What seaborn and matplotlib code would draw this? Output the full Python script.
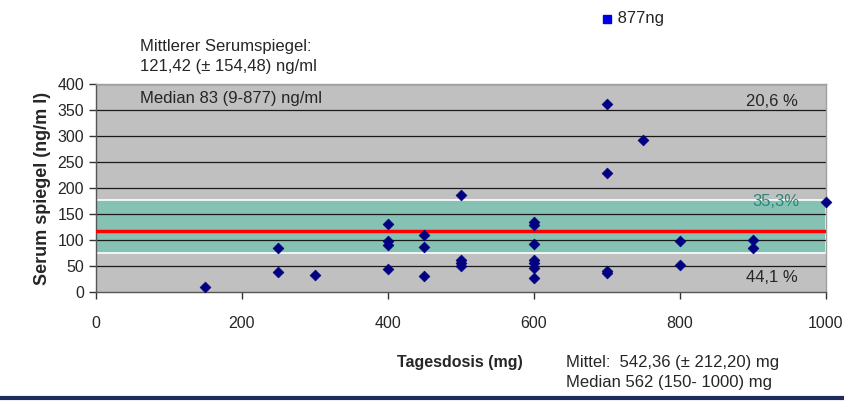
import matplotlib
matplotlib.use("Agg")
import matplotlib.pyplot as plt
import matplotlib.transforms as mtransforms
from matplotlib.lines import Line2D
import seaborn as sns
import pandas as pd

# ---- data ----
dose_mg = [150, 250, 250, 300,
           400, 400, 400, 400,
           450, 450, 450,
           500, 500, 500, 500,
           600, 600, 600, 600, 600, 600, 600,
           700, 700, 700, 700,
           750, 800, 800, 900, 900, 1000]
serum_ng_ml = [10, 84, 38, 33,
               131, 99, 91, 44,
               109, 87, 30,
               186, 62, 55, 50,
               135, 129, 93, 62, 56, 47, 26,
               362, 229, 40, 36,
               293, 99, 52, 100, 84, 173]
outlier_dose = 700
outlier_label = "877ng"
band_low, band_high = 75, 177
mean_line = 118
x_ticks = [0, 200, 400, 600, 800, 1000]
y_ticks = [0, 50, 100, 150, 200, 250, 300, 350, 400]
pct_above, pct_band, pct_below = "20,6 %", "35,3%", "44,1 %"

df = pd.DataFrame({"Tagesdosis": dose_mg, "Serum": serum_ng_ml})

sns.set_style("white")
plt.rcParams["font.family"] = ["Liberation Sans", "DejaVu Sans"]

fig = plt.figure(figsize=(8.45, 4.01), dpi=100)
ax = fig.add_axes([96 / 845, 109 / 401, 730 / 845, 208 / 401])
ax.set_facecolor("#C0C0C0")

ax.axhspan(band_low, band_high, facecolor="#85C2B3", edgecolor="white", linewidth=1.2, zorder=1)
for yv in y_ticks[1:]:
    ax.axhline(yv, color="#1a1a1a", linewidth=0.9, zorder=2)
ax.axhline(mean_line, color="#FF0000", linewidth=2.5, zorder=3)

sns.scatterplot(data=df, x="Tagesdosis", y="Serum", marker="D", s=30,
                color="#000080", edgecolor="#000080", linewidth=0.5, ax=ax, zorder=5, clip_on=False)

ax.set_xlim(0, 1000)
ax.set_ylim(0, 400)
ax.set_xticks(x_ticks)
ax.set_yticks(y_ticks)
ax.tick_params(axis="both", labelsize=11.5, length=5, width=1, color="#333333", direction="out",
               left=True, bottom=True)
ax.tick_params(axis="x", pad=12)
for s in ["top", "right"]:
    ax.spines[s].set_color("#A0A0A0")
for s in ["left", "bottom"]:
    ax.spines[s].set_color("#555555")
for sp in ax.spines.values():
    sp.set_linewidth(1)

ax.set_xlabel("")
ax.set_ylabel("")
fig.text(43 / 845, 1 - 188 / 401, "Serum spiegel (ng/m l)", rotation=90,
         ha="center", va="center", fontsize=13, fontweight="bold")
fig.text(460 / 845, 1 - 363 / 401, "Tagesdosis (mg)", ha="center", va="center",
         fontsize=11.5, fontweight="bold")
fig.text(566 / 845, 1 - 363 / 401, "Mittel:  542,36 (± 212,20) mg", ha="left", va="center", fontsize=12)
fig.text(566 / 845, 1 - 383 / 401, "Median 562 (150- 1000) mg", ha="left", va="center", fontsize=12)

fig.text(140 / 845, 1 - 47 / 401, "Mittlerer Serumspiegel:", ha="left", va="center", fontsize=12)
fig.text(140 / 845, 1 - 67 / 401, "121,42 (± 154,48) ng/ml", ha="left", va="center", fontsize=12)
fig.text(140 / 845, 1 - 98 / 401, "Median 83 (9-877) ng/ml", ha="left", va="center", fontsize=12)

fig.text(798 / 845, 1 - 101 / 401, pct_above, ha="right", va="center", fontsize=12)
fig.text(799 / 845, 1 - 201 / 401, pct_band, ha="right", va="center", fontsize=12, color="#2E8577")
fig.text(798 / 845, 1 - 278 / 401, pct_below, ha="right", va="center", fontsize=12)

# outlier annotation above the chart
trans = mtransforms.blended_transform_factory(ax.transData, fig.transFigure)
ax.plot([outlier_dose], [1 - 19 / 401], marker="s", markersize=5.5, color="#0000E0",
        transform=trans, clip_on=False, linestyle="none")
ax.text(outlier_dose + 8, 1 - 19 / 401, " " + outlier_label, transform=trans, ha="left", va="center",
        fontsize=12)

# bottom rule
fig.add_artist(Line2D([0, 1], [1 - 398 / 401, 1 - 398 / 401], transform=fig.transFigure,
                      color="#1F2A60", linewidth=3))

fig.savefig("out.png", dpi=100)
